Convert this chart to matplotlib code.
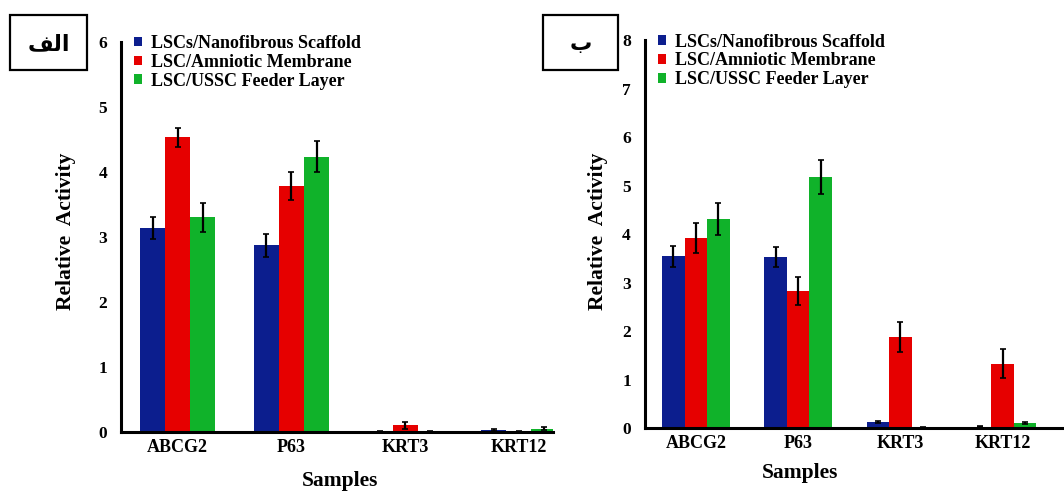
import matplotlib.pyplot as plt
import matplotlib.patches as mpatches
import numpy as np

plt.rcParams['font.family'] = ['Liberation Serif', 'DejaVu Sans']
plt.rcParams['font.weight'] = 'bold'

samples = ["ABCG2", "P63", "KRT3", "KRT12"]
series = ["LSCs/Nanofibrous Scaffold", "LSC/Amniotic Membrane", "LSC/USSC Feeder Layer"]
colors = ["#0c1e8e", "#e60000", "#10b22a"]

# panel "alef"
left_vals = [[3.13, 2.87, 0.01, 0.03],
             [4.53, 3.78, 0.10, 0.01],
             [3.30, 4.23, 0.01, 0.05]]
left_err = [[0.17, 0.18, 0.01, 0.01],
            [0.15, 0.22, 0.06, 0.01],
            [0.22, 0.24, 0.01, 0.02]]

# panel "be"
right_vals = [[3.54, 3.53, 0.12, 0.03],
              [3.92, 2.83, 1.87, 1.33],
              [4.31, 5.17, 0.02, 0.11]]
right_err = [[0.22, 0.21, 0.02, 0.01],
             [0.30, 0.29, 0.31, 0.29],
             [0.33, 0.35, 0.01, 0.02]]

fig = plt.figure(figsize=(10.64, 4.94), dpi=100)


def draw_panel(rect, vals, errs, ymax, xmax):
    ax = fig.add_axes(rect)
    x = np.arange(len(samples))
    w = 0.22
    for i in range(len(series)):
        ax.bar(x + (i - 1) * w, vals[i], w, yerr=errs[i], color=colors[i],
               label=series[i], capsize=2.5,
               error_kw=dict(ecolor="black", elinewidth=1.6, capthick=1.2))
    ax.set_xlim(-0.5, xmax)
    ax.set_ylim(0, ymax)
    ax.set_yticks(range(0, ymax + 1))
    ax.set_xticks(x)
    ax.set_xticklabels(samples, fontsize=13, fontweight='bold')
    ax.tick_params(axis='x', length=0, pad=5, labelsize=13)
    ax.tick_params(axis='y', length=0, pad=10, labelsize=12.5)
    for lab in ax.get_yticklabels():
        lab.set_fontweight('bold')
    for s in ["top", "right"]:
        ax.spines[s].set_visible(False)
    for s in ["left", "bottom"]:
        ax.spines[s].set_linewidth(2.2)
    ax.legend(loc="upper left", bbox_to_anchor=(0.005, 1.045), frameon=False,
              prop={'weight': 'bold', 'size': 13}, handlelength=0.45,
              handleheight=0.45, handletextpad=0.5, labelspacing=0.1,
              borderaxespad=0.2)
    return ax


axL = draw_panel([0.1137, 0.1255, 0.406, 0.79], left_vals, left_err, 6, 3.3)
axR = draw_panel([0.606, 0.1336, 0.394, 0.785], right_vals, right_err, 8, 3.6)

# axis titles
fig.text(66 / 1064, 1 - 231 / 494, "Relative  Activity", rotation=90,
         ha="center", va="center", fontsize=15.5, fontweight="bold")
fig.text(598 / 1064, 1 - 231 / 494, "Relative  Activity", rotation=90,
         ha="center", va="center", fontsize=15.5, fontweight="bold")
fig.text(340 / 1064, 1 - 481 / 494, "Samples", ha="center", va="center",
         fontsize=15.5, fontweight="bold")
fig.text(800 / 1064, 1 - 473 / 494, "Samples", ha="center", va="center",
         fontsize=15.5, fontweight="bold")

# panel tags (Arabic letters, shaped forms in visual order)
for (x0, x1), tag in [((10, 87), "\uFED2\uFEDF\uFE8D"), ((543, 618), "\u0628")]:
    box = mpatches.Rectangle((x0 / 1064, 1 - 70 / 494), (x1 - x0) / 1064, 55 / 494,
                             transform=fig.transFigure, fill=False,
                             edgecolor="black", linewidth=1.6)
    fig.patches.append(box)
    fig.text((x0 + x1) / 2 / 1064, 1 - 44 / 494, tag, ha="center", va="center",
             fontsize=16, fontweight="bold", family=["DejaVu Sans"])

fig.savefig("out.png", dpi=100)
